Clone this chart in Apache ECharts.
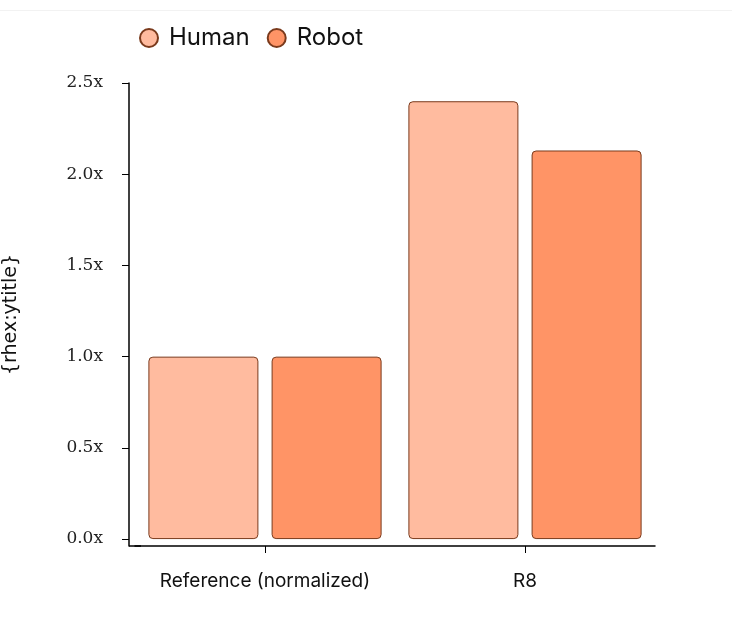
<!DOCTYPE html>
<html>
<head>
<meta charset="utf-8">
<script src="https://cdn.jsdelivr.net/npm/echarts@6/dist/echarts.min.js"></script>
<style>
  html, body { margin: 0; padding: 0; background: #fff; }
  #chart { width: 732px; height: 627px; }
</style>
</head>
<body>
<div id="chart"></div>
<script>
// 数据
const categories = ['Reference (normalized)', 'R8'];
const humanValues = [1.0, 2.40];
const robotValues = [1.0, 2.13];
const yTicks = [0, 0.5, 1.0, 1.5, 2.0, 2.5];

const borderColor = '#7a3a1c';

const myChart = echarts.init(document.getElementById('chart'));

const option = {
  animation: false,
  backgroundColor: '#fff',
  graphic: [
    // 顶部浅灰分隔线
    { type: 'rect', left: 0, top: 10, shape: { width: 732, height: 1 }, style: { fill: '#f2f2f2' } }
  ],
  legend: {
    top: 21,
    left: 134,
    icon: 'circle',
    itemWidth: 18,
    itemHeight: 18,
    itemGap: 17,
    textStyle: { fontFamily: 'Inter', fontSize: 24, color: '#111', padding: [0, 0, 0, 6] },
    data: ['Human', 'Robot']
  },
  grid: { left: 135, right: 77, top: 83, bottom: 81, outerBoundsMode: 'none' },
  xAxis: {
    type: 'category',
    data: categories,
    axisLine: {
      onZero: false,
      // 左端补一段，和 y 轴相接
      symbol: ['rect', 'none'],
      symbolSize: [1.5, 12],
      symbolOffset: [0, 0],
      lineStyle: { color: '#000', width: 1.5 }
    },
    axisTick: { show: true, interval: 0, alignWithLabel: true, length: 7, lineStyle: { color: '#000' } },
    axisLabel: { interval: 0, margin: 26, fontFamily: 'Inter', fontSize: 19, color: '#111' }
  },
  yAxis: {
    type: 'value',
    min: -0.038,
    max: 2.5,
    offset: 6,
    name: '{rhex:ytitle}',
    nameLocation: 'middle',
    nameGap: 108,
    nameTextStyle: { fontFamily: 'DejaVu Sans', fontSize: 19, color: '#111' },
    splitLine: { show: false },
    axisLine: { show: true, lineStyle: { color: '#000', width: 1.5 } },
    axisTick: { show: true, length: 7, customValues: yTicks, lineStyle: { color: '#000' } },
    axisLabel: {
      customValues: yTicks,
      margin: 26,
      fontFamily: 'DejaVu Serif',
      fontSize: 17,
      color: '#222',
      formatter: (v) => v.toFixed(1) + 'x'
    }
  },
  series: [
    {
      name: 'Human',
      type: 'bar',
      data: humanValues,
      barWidth: 110,
      barGap: '12%',
      itemStyle: { color: '#ffbb9f', borderColor: borderColor, borderWidth: 1, borderRadius: 4 }
    },
    {
      name: 'Robot',
      type: 'bar',
      data: robotValues,
      barWidth: 110,
      itemStyle: { color: '#ff9466', borderColor: borderColor, borderWidth: 1, borderRadius: 4 }
    }
  ]
};

myChart.setOption(option);
</script>
</body>
</html>
